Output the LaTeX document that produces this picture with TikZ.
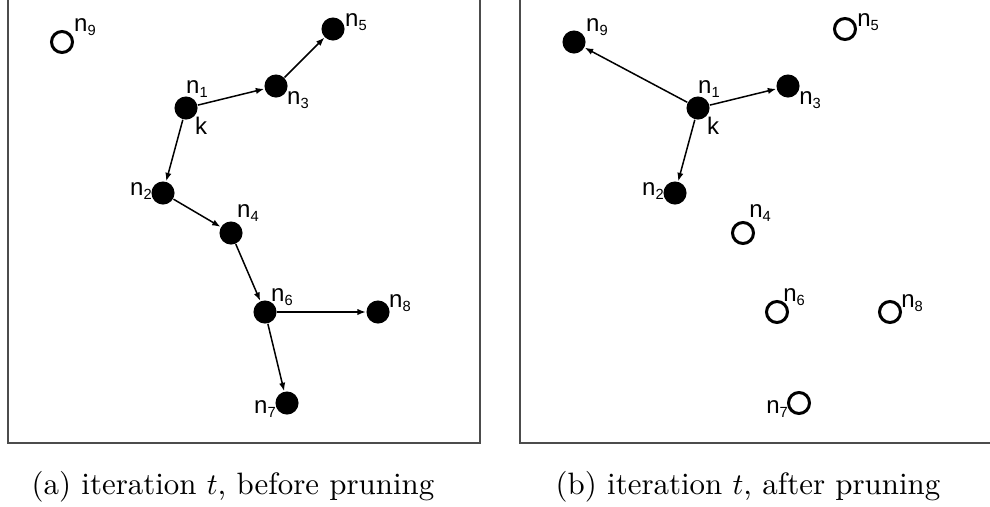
\documentclass[tikz,border=0pt]{standalone}
\usepackage{fontspec}
\usepackage{amsmath}
\newfontfamily\labfont{Liberation Sans}
\usetikzlibrary{arrows.meta}
\newcommand{\nlab}[1]{n\raisebox{-1.3pt}{\fontsize{4.9}{5}\selectfont #1}}

\begin{document}
\begin{tikzpicture}[x=0.3333pt,y=-0.3333pt,
		full/.style={circle,fill=black,inner sep=0pt,minimum size=7.7pt},
		hollow/.style={circle,draw=black,line width=1pt,inner sep=0pt,minimum size=7pt},
		lab/.style={inner sep=0pt,font=\labfont\fontsize{8}{9}\selectfont},
		link/.style={line width=0.5pt,-{Latex[length=2.8pt,width=2.1pt]}},
		frame/.style={draw=black!70,line width=0.6pt},
		caption/.style={inner sep=0pt,font=\fontsize{10.3}{12}\selectfont}]
				\useasboundingbox (0,0) rectangle (990,506);
				% (a) before pruning
				\draw[frame] (8,-40) rectangle (480,443);
				\node[hollow] (a9) at (62,42) {};
				\node[full] (a5) at (333,29) {};
				\node[full] (a3) at (276,86) {};
				\node[full] (a1) at (186,108) {};
				\node[full] (a2) at (163,193) {};
				\node[full] (a4) at (231,233) {};
				\node[full] (a6) at (265,312) {};
				\node[full] (a8) at (378,312) {};
				\node[full] (a7) at (287,403) {};
				\node[lab] (la9) at (85,27) {\nlab{9}};
				\node[lab] (la5) at (356,22) {\nlab{5}};
				\node[lab] (la3) at (298,100) {\nlab{3}};
				\node[lab] (la1) at (197,89) {\nlab{1}};
				\node[lab] (lak) at (201,126) {k};
				\node[lab] (la2) at (141,191) {\nlab{2}};
				\node[lab] (la4) at (248,213) {\nlab{4}};
				\node[lab] (la6) at (282,297) {\nlab{6}};
				\node[lab] (la8) at (400,303) {\nlab{8}};
				\node[lab] (la7) at (265,409) {\nlab{7}};
				\draw[link] (a1) to (a3);
				\draw[link] (a3) to (a5);
				\draw[link] (a1) to (a2);
				\draw[link] (a2) to (a4);
				\draw[link] (a4) to (a6);
				\draw[link] (a6) to (a8);
				\draw[link] (a6) to (a7);
				\node[caption] (capa) at (233,487) {(a) iteration $t$, before pruning};
				% (b) after pruning
				\draw[frame] (520,-40) rectangle (992,443);
				\node[full] (b9) at (574,42) {};
				\node[hollow] (b5) at (845,29) {};
				\node[full] (b3) at (788,86) {};
				\node[full] (b1) at (698,108) {};
				\node[full] (b2) at (675,193) {};
				\node[hollow] (b4) at (743,233) {};
				\node[hollow] (b6) at (777,312) {};
				\node[hollow] (b8) at (890,312) {};
				\node[hollow] (b7) at (799,403) {};
				\node[lab] (lb9) at (597,27) {\nlab{9}};
				\node[lab] (lb5) at (868,22) {\nlab{5}};
				\node[lab] (lb3) at (810,100) {\nlab{3}};
				\node[lab] (lb1) at (709,89) {\nlab{1}};
				\node[lab] (lbk) at (713,126) {k};
				\node[lab] (lb2) at (653,191) {\nlab{2}};
				\node[lab] (lb4) at (760,213) {\nlab{4}};
				\node[lab] (lb6) at (794,297) {\nlab{6}};
				\node[lab] (lb8) at (912,303) {\nlab{8}};
				\node[lab] (lb7) at (777,409) {\nlab{7}};
				\draw[link] (b1) to (b9);
				\draw[link] (b1) to (b3);
				\draw[link] (b1) to (b2);
				\node[caption] (capb) at (748,487) {(b) iteration $t$, after pruning};
			\end{tikzpicture}
\end{document}
